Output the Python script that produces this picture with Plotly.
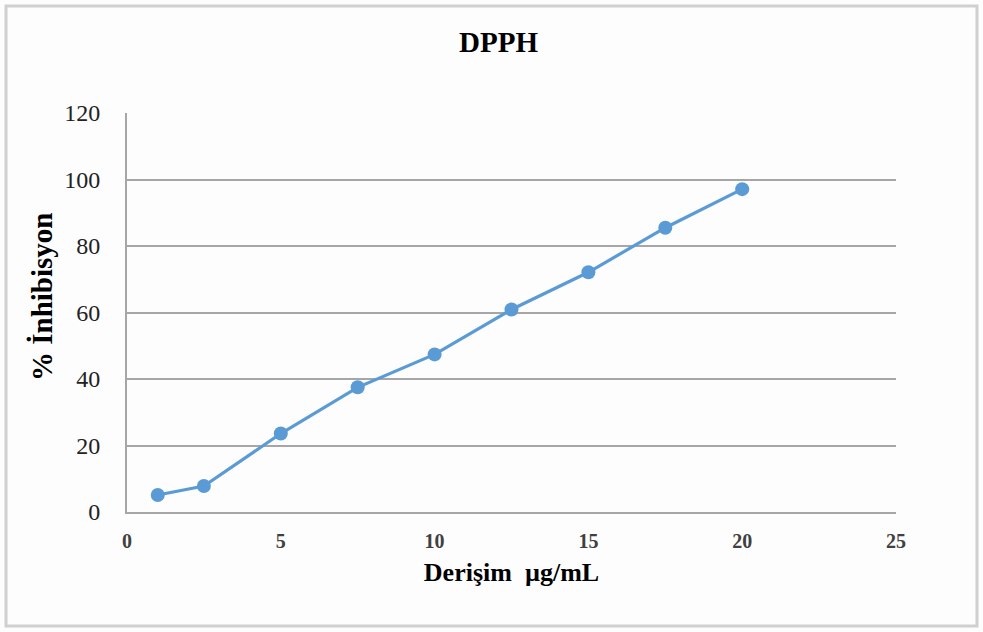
import plotly.graph_objects as go

concentration = [1, 2.5, 5, 7.5, 10, 12.5, 15, 17.5, 20]
inhibition = [5.1, 7.8, 23.6, 37.5, 47.4, 60.9, 72.1, 85.5, 97.1]

x_ticks = [0, 5, 10, 15, 20, 25]
y_ticks = [0, 20, 40, 60, 80, 100, 120]

W, H = 983, 632
L, R, T, B = 127, 87, 113, 120
pw, ph = W - L - R, H - T - B

def px_x(p):
    return (p - L) / pw

def px_y(p):
    return (H - B - p) / ph

serif = "Liberation Serif, Times New Roman, serif"

fig = go.Figure()
fig.add_trace(go.Scatter(
    x=concentration, y=inhibition, mode="lines+markers",
    line=dict(color="#5b9bd5", width=3.2),
    marker=dict(color="#5b9bd5", size=14),
    showlegend=False,
))

fig.update_layout(
    width=W, height=H,
    margin=dict(l=L, r=R, t=T, b=B),
    paper_bgcolor="#fdfdfd", plot_bgcolor="#fdfdfd",
    title=dict(text="<b>DPPH</b>", x=498.5 / W, xanchor="center",
               y=1 - 42 / H, yanchor="middle",
               font=dict(family=serif, size=29, color="#000")),
    xaxis=dict(
        range=[0, 25], tickvals=x_ticks, ticktext=[f"<b>{v}</b>" for v in x_ticks],
        showgrid=False, zeroline=False, showline=True, linecolor="#a6a6a6", linewidth=2,
        ticks="", ticklabelstandoff=10,
        tickfont=dict(family=serif, size=20, color="#404040"),
        title=dict(text="<b>Derişim  µg/mL</b>", standoff=12,
                   font=dict(family=serif, size=26, color="#000")),
    ),
    yaxis=dict(
        range=[0, 120], tickvals=y_ticks,
        showgrid=True, gridcolor="#a6a6a6", gridwidth=1.5, zeroline=False,
        showline=True, linecolor="#a6a6a6", linewidth=2,
        ticks="", ticklabelstandoff=20,
        tickfont=dict(family=serif, size=24, color="#222"),
    ),
)

fig.add_annotation(text="<b>% İnhibisyon</b>", xref="paper", yref="paper",
                   x=px_x(42), y=px_y(297), xanchor="center", yanchor="middle",
                   textangle=-90, showarrow=False,
                   font=dict(family=serif, size=29, color="#000"))

fig.add_shape(type="rect", xref="paper", yref="paper",
              x0=px_x(6), x1=px_x(977), y0=px_y(626), y1=px_y(6),
              line=dict(color="#d0d0d0", width=3), fillcolor="rgba(0,0,0,0)", layer="below")

fig.write_html("out.html")
